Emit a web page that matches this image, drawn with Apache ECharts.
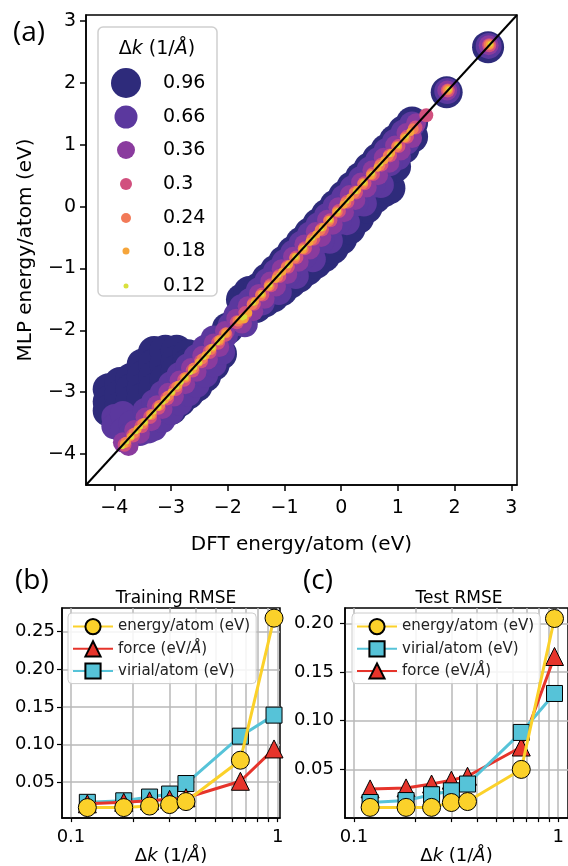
<!DOCTYPE html>
<html>
<head>
<meta charset="utf-8">
<title>MLP parity and RMSE vs dk</title>
<script src="https://cdn.jsdelivr.net/npm/echarts@6/dist/echarts.min.js"></script>
<style>
  html, body { margin: 0; padding: 0; background: #fff; }
  #chart { width: 568px; height: 866px; }
</style>
</head>
<body>
<div id="chart"></div>
<script>
// ---- (a) parity plot: [DFT, MLP] energy/atom (eV) for each Δk ----
const dkNames = ['0.96', '0.66', '0.36', '0.3', '0.24', '0.18', '0.12']
const diagLine = [-4.5, 3.1]

const pts096 = [
  [-4.10, -2.95], [-4.10, -3.15], [-4.10, -3.30],
  [-3.90, -2.85], [-3.90, -3.05], [-3.90, -3.25],
  [-3.70, -2.78], [-3.70, -2.95], [-3.70, -3.15],
  [-3.50, -2.55], [-3.50, -2.75], [-3.50, -2.95], [-3.50, -3.10],
  [-3.30, -2.35], [-3.30, -2.55], [-3.30, -2.75], [-3.30, -2.95],
  [-3.10, -2.33], [-3.10, -2.55], [-3.10, -2.80],
  [-2.90, -2.33], [-2.90, -2.50], [-2.90, -2.65],
  [-2.70, -2.40], [-2.70, -2.55], [-2.50, -2.45],
  [-3.00, -3.27], [-2.85, -3.14], [-2.70, -3.02], [-2.55, -2.90], [-2.40, -2.74],
  [-2.25, -2.56], [-2.12, -2.38],
  [-2.00, -1.97], [-1.75, -1.50], [-1.62, -1.38],
  [-1.45, -1.32], [-1.30, -1.17], [-1.15, -1.03], [-1.00, -0.88], [-0.85, -0.73],
  [-0.70, -0.58], [-0.55, -0.43], [-0.40, -0.28], [-0.25, -0.13], [-0.10, 0.02],
  [0.05, 0.17], [0.20, 0.32], [0.35, 0.47], [0.50, 0.62], [0.65, 0.77],
  [0.80, 0.92], [0.95, 1.07], [1.10, 1.22], [1.25, 1.36],
  [-1.50, -1.62], [-1.35, -1.53], [-1.20, -1.45], [-1.05, -1.35], [-0.90, -1.23],
  [-0.75, -1.13], [-0.60, -1.02], [-0.45, -0.91], [-0.30, -0.80], [-0.15, -0.67],
  [0.00, -0.52], [0.15, -0.35], [0.30, -0.18], [0.45, -0.01], [0.60, 0.15],
  [0.75, 0.25], [0.85, 0.30], [0.95, 0.65], [1.10, 0.95], [1.25, 1.13],
  [-1.10, -1.25], [-0.80, -0.98], [-0.50, -0.74], [-0.20, -0.45], [0.10, -0.15],
  [0.40, 0.18], [0.70, 0.50],
  [1.86, 1.85], [2.59, 2.58]
]
const pts066 = [
  [-4.00, -3.40], [-4.00, -3.55], [-3.85, -3.35], [-3.85, -3.62], [-3.70, -3.50],
  [-3.70, -3.68], [-3.55, -3.66], [-3.40, -3.62],
  [-3.30, -3.58], [-3.15, -3.45], [-3.00, -3.32], [-2.85, -3.17], [-2.70, -3.02],
  [-2.55, -2.88], [-2.40, -2.72], [-2.25, -2.55], [-2.10, -2.35],
  [-3.45, -3.30], [-3.30, -3.16], [-3.15, -3.02], [-3.00, -2.87], [-2.85, -2.72],
  [-2.70, -2.58], [-2.55, -2.43], [-2.40, -2.28], [-2.25, -2.13],
  [-2.05, -2.08], [-1.95, -1.92], [-1.85, -1.76], [-1.75, -1.62], [-1.70, -1.90],
  [-1.60, -1.52],
  [-1.45, -1.35], [-1.30, -1.20], [-1.15, -1.05], [-1.00, -0.90], [-0.85, -0.75],
  [-0.70, -0.60], [-0.55, -0.45], [-0.40, -0.30], [-0.25, -0.15], [-0.10, 0.00],
  [0.05, 0.15], [0.20, 0.30], [0.35, 0.45], [0.50, 0.60], [0.65, 0.75],
  [0.80, 0.90], [0.95, 1.05], [1.10, 1.20], [1.25, 1.33],
  [-1.40, -1.55], [-1.10, -1.38], [-0.80, -1.12], [-0.50, -0.85], [-0.20, -0.55],
  [0.10, -0.25], [0.40, 0.05], [0.70, 0.35], [1.00, 0.80],
  [-1.25, -1.35], [-0.95, -1.10], [-0.65, -0.80], [-0.35, -0.55], [-0.05, -0.25],
  [0.25, 0.05], [0.55, 0.35], [0.85, 0.70], [1.15, 1.05],
  [1.87, 1.87], [2.60, 2.60]
]
const pts036 = [
  [-3.85, -3.81], [-3.65, -3.61], [-3.45, -3.41], [-3.25, -3.21], [-3.05, -3.01],
  [-2.85, -2.81], [-2.65, -2.61], [-2.45, -2.41], [-2.25, -2.21], [-2.05, -2.01],
  [-3.75, -3.87], [-3.55, -3.67], [-3.35, -3.47], [-3.15, -3.27], [-2.95, -3.07],
  [-2.75, -2.87], [-2.55, -2.67], [-2.35, -2.47], [-2.15, -2.27],
  [-1.85, -1.81], [-1.65, -1.61], [-1.45, -1.41], [-1.25, -1.21], [-1.05, -1.01],
  [-0.85, -0.81], [-0.65, -0.61], [-0.45, -0.41], [-0.25, -0.21], [-0.05, -0.01],
  [0.15, 0.19], [0.35, 0.39], [0.55, 0.59], [0.75, 0.79], [0.95, 0.99],
  [1.15, 1.19], [1.32, 1.35],
  [-1.75, -1.89], [-1.55, -1.69], [-1.35, -1.49], [-1.15, -1.29], [-0.95, -1.09],
  [-0.75, -0.89], [-0.55, -0.69], [-0.35, -0.49], [-0.15, -0.29], [0.05, -0.09],
  [0.25, 0.11], [0.45, 0.31], [0.65, 0.51], [0.85, 0.71], [1.05, 0.91], [1.25, 1.11],
  [1.87, 1.88], [2.60, 2.61]
]
const pts030 = [
  [-3.82, -3.85], [-3.67, -3.70], [-3.52, -3.55], [-3.37, -3.40], [-3.22, -3.25],
  [-3.07, -3.10], [-2.92, -2.95], [-2.77, -2.80], [-2.62, -2.65], [-2.47, -2.50],
  [-2.32, -2.35], [-2.17, -2.20], [-2.04, -2.07],
  [-1.84, -1.87], [-1.69, -1.72], [-1.54, -1.57], [-1.39, -1.42], [-1.24, -1.27],
  [-1.09, -1.12], [-0.94, -0.97], [-0.79, -0.82], [-0.64, -0.67], [-0.49, -0.52],
  [-0.34, -0.37], [-0.19, -0.22], [-0.04, -0.07], [0.11, 0.08], [0.26, 0.23],
  [0.41, 0.38], [0.56, 0.53], [0.71, 0.68], [0.86, 0.83], [1.01, 0.98],
  [1.16, 1.13], [1.31, 1.28], [1.50, 1.48],
  [1.88, 1.88], [2.61, 2.61]
]
const pts024 = [
  [-3.80, -3.81], [-3.65, -3.66], [-3.50, -3.51], [-3.35, -3.36], [-3.20, -3.21],
  [-3.05, -3.06], [-2.90, -2.91], [-2.75, -2.76], [-2.60, -2.61], [-2.45, -2.46],
  [-2.30, -2.31], [-2.15, -2.16], [-2.03, -2.04],
  [-1.82, -1.85], [-1.72, -1.80], [-1.57, -1.58], [-1.42, -1.43], [-1.27, -1.28],
  [-1.12, -1.13], [-0.97, -0.98], [-0.82, -0.83], [-0.67, -0.68], [-0.52, -0.53],
  [-0.37, -0.38], [-0.22, -0.23], [-0.07, -0.08], [0.08, 0.07], [0.23, 0.22],
  [0.38, 0.37], [0.53, 0.52], [0.68, 0.67], [0.83, 0.82], [0.98, 0.97],
  [1.13, 1.12], [1.27, 1.26],
  [1.88, 1.89], [2.61, 2.62]
]
const pts018 = [
  [-3.83, -3.84], [-3.71, -3.72], [-3.59, -3.60], [-3.47, -3.48], [-3.35, -3.36],
  [-3.23, -3.24], [-3.11, -3.12], [-2.99, -3.00], [-2.87, -2.88], [-2.75, -2.76],
  [-2.63, -2.64], [-2.51, -2.52], [-2.39, -2.40], [-2.27, -2.28], [-2.15, -2.16],
  [-2.04, -2.05],
  [-1.80, -1.83], [-1.72, -1.82], [-1.64, -1.72], [-1.52, -1.53], [-1.40, -1.41],
  [-1.28, -1.29], [-1.16, -1.17], [-1.04, -1.05], [-0.92, -0.93], [-0.80, -0.81],
  [-0.68, -0.69], [-0.56, -0.57], [-0.44, -0.45], [-0.32, -0.33], [-0.20, -0.21],
  [-0.08, -0.09], [0.04, 0.03], [0.16, 0.15], [0.28, 0.27], [0.40, 0.39],
  [0.52, 0.51], [0.64, 0.63], [0.76, 0.75], [0.88, 0.87], [1.00, 0.99],
  [1.12, 1.11], [1.22, 1.21],
  [1.89, 1.89], [2.62, 2.62]
]
const pts012 = [
  [-3.86, -3.88], [-3.78, -3.80], [-3.70, -3.72], [-3.62, -3.64], [-3.54, -3.56],
  [-3.46, -3.48], [-3.38, -3.40], [-3.30, -3.32], [-3.22, -3.24], [-3.14, -3.16],
  [-3.06, -3.08], [-2.98, -3.00], [-2.90, -2.92], [-2.82, -2.84], [-2.74, -2.76],
  [-2.66, -2.68], [-2.58, -2.60], [-2.50, -2.52], [-2.42, -2.44], [-2.34, -2.36],
  [-2.26, -2.28], [-2.18, -2.20], [-2.10, -2.12],
  [-1.74, -1.80], [-1.70, -1.78],
  [-1.55, -1.56], [-1.40, -1.41], [-1.25, -1.26], [-1.10, -1.11], [-0.95, -0.96],
  [-0.80, -0.81], [-0.65, -0.66], [-0.50, -0.51], [-0.35, -0.36], [-0.20, -0.21],
  [-0.05, -0.06], [0.10, 0.09], [0.25, 0.24], [0.40, 0.39], [0.55, 0.54],
  [0.70, 0.69], [0.85, 0.84], [1.00, 0.99], [1.15, 1.14],
  [1.90, 1.90], [2.63, 2.63]
]
const dkPoints = [pts096, pts066, pts036, pts030, pts024, pts018, pts012]

// axis ticks
const parityTicks = [-4, -3, -2, -1, 0, 1, 2, 3]
const dkMajor = [0.1, 1]
const dkGrid = [0.1, 0.2, 0.3, 0.4, 0.5, 0.6, 0.7, 0.8, 0.9, 1]
const trainTicks = [0.05, 0.10, 0.15, 0.20, 0.25]
const testTicks = [0.05, 0.10, 0.15, 0.20]

// ---- (b) / (c) RMSE vs Δk (1/Å) ----
const dk = [0.12, 0.18, 0.24, 0.30, 0.36, 0.66, 0.96]
const trainEnergy = [0.016, 0.016, 0.018, 0.020, 0.024, 0.079, 0.268]
const trainForce = [0.021, 0.023, 0.025, 0.027, 0.029, 0.051, 0.094]
const trainVirial = [0.023, 0.025, 0.030, 0.034, 0.048, 0.111, 0.139]
const testEnergy = [0.011, 0.011, 0.011, 0.016, 0.017, 0.050, 0.205]
const testVirial = [0.016, 0.018, 0.024, 0.028, 0.035, 0.088, 0.128]
const testForce = [0.030, 0.031, 0.035, 0.039, 0.043, 0.073, 0.166]

// styles
const dkColors = ['#2e2b7b', '#5b389e', '#8a3b9e', '#d1507e', '#f27a58', '#f6a53a', '#d9e03c']
const dkSizes = [32, 26, 20, 14, 11, 8, 5]
const dkLegendSizes = [30, 23, 18, 12, 10, 7, 5]
const dkLegendY = [83, 117, 150, 184, 218, 251, 286]
const FONT = 'DejaVu Sans'

const NAME_E = 'energy/atom (eV)'
const NAME_F = 'force (eV/Å)'
const NAME_V = 'virial/atom (eV)'
const lineStyles = {
  [NAME_E]: { color: '#fbd12a', symbol: 'circle', size: 18 },
  [NAME_F]: { color: '#e6342b', symbol: 'triangle', size: 18 },
  [NAME_V]: { color: '#56c3d8', symbol: 'rect', size: 16 }
}

const minusFmt = (v) => (v < 0 ? '\u2212' + Math.abs(v) : String(v))

function rmseSeries(name, xs, ys, gridIdx, z) {
  const st = lineStyles[name]
  return {
    name: name,
    type: 'line',
    xAxisIndex: gridIdx,
    yAxisIndex: gridIdx,
    data: xs.map((x, i) => [x, ys[i]]),
    symbol: st.symbol,
    symbolSize: st.size,
    z: z,
    lineStyle: { color: st.color, width: 3 },
    itemStyle: { color: st.color, borderColor: '#000', borderWidth: 1 },
    emphasis: { disabled: true }
  }
}

function legendRich(name) {
  // italic Å like the mathtext in the original
  return name.replace('Å', '{i|Å}')
}

function dkAxisX(idx, min, max) {
  return {
    type: 'log',
    gridIndex: idx,
    min: min,
    max: max,
    name: '\u0394{i|k} (1/{i|Å})',
    nameLocation: 'middle',
    nameGap: 13,
    nameTextStyle: {
      fontFamily: FONT, fontSize: 18, color: '#000',
      rich: { i: { fontStyle: 'italic', fontFamily: FONT, fontSize: 18, color: '#000' } }
    },
    axisLine: { show: true, lineStyle: { color: '#000', width: 1.5 } },
    axisTick: { show: true, length: 4, customValues: dkGrid, lineStyle: { color: '#000', width: 1.2 } },
    axisLabel: {
      customValues: dkMajor, margin: 10, fontFamily: FONT, fontSize: 18, color: '#000',
      formatter: (v) => String(+(+v).toPrecision(2))
    },
    splitLine: { show: true, lineStyle: { color: '#b9b9b9', width: 1.5 } }
  }
}

function rmseAxisY(idx, min, max, ticks, margin) {
  return {
    type: 'value',
    gridIndex: idx,
    min: min,
    max: max,
    axisLine: { show: true, lineStyle: { color: '#000', width: 1.5 } },
    axisTick: { show: true, length: 5, customValues: ticks, lineStyle: { color: '#000', width: 1.2 } },
    axisLabel: {
      customValues: ticks, margin: margin, fontFamily: FONT, fontSize: 18, color: '#000',
      formatter: (v) => (+v).toFixed(2)
    },
    splitLine: { show: true, lineStyle: { color: '#b9b9b9', width: 1.5 } }
  }
}

function rmseLegend(left, names) {
  return {
    left: left,
    top: 613,
    orient: 'vertical',
    data: names,
    itemWidth: 40,
    itemHeight: 19,
    itemGap: 5,
    padding: [5, 6, 4, 4],
    backgroundColor: 'rgba(255,255,255,0.85)',
    borderColor: '#cccccc',
    borderWidth: 1,
    borderRadius: 4,
    selectedMode: false,
    formatter: legendRich,
    textStyle: {
      fontFamily: FONT, fontSize: 15, color: '#222',
      rich: { i: { fontStyle: 'italic', fontFamily: FONT, fontSize: 15, color: '#222' } }
    }
  }
}

const myChart = echarts.init(document.getElementById('chart'), null, { renderer: 'canvas' })

const series = []
dkNames.forEach((name, i) => {
  series.push({
    name: name,
    type: 'scatter',
    xAxisIndex: 0,
    yAxisIndex: 0,
    data: dkPoints[i],
    symbol: 'circle',
    symbolSize: dkSizes[i],
    itemStyle: { color: dkColors[i], opacity: 1 },
    emphasis: { disabled: true },
    z: 2
  })
})
// y = x reference line
series.push({
  type: 'line',
  xAxisIndex: 0,
  yAxisIndex: 0,
  data: diagLine.map((v) => [v, v]),
  symbol: 'none',
  lineStyle: { color: '#000', width: 2 },
  z: 5,
  silent: true
})
// training: drawn virial, force, energy (energy on top)
series.push(rmseSeries(NAME_V, dk, trainVirial, 1, 3))
series.push(rmseSeries(NAME_F, dk, trainForce, 1, 4))
series.push(rmseSeries(NAME_E, dk, trainEnergy, 1, 5))
// test: drawn force, virial, energy
series.push(rmseSeries(NAME_F, dk, testForce, 2, 3))
series.push(rmseSeries(NAME_V, dk, testVirial, 2, 4))
series.push(rmseSeries(NAME_E, dk, testEnergy, 2, 5))

// one legend per Δk so each marker keeps its own size
const legends = dkNames.map((name, i) => ({
  data: [name],
  left: 126 - dkLegendSizes[i] / 2,
  top: dkLegendY[i] - Math.max(dkLegendSizes[i], 19) / 2,
  itemWidth: 64,
  itemHeight: dkLegendSizes[i],
  icon: 'circle',
  padding: 0,
  selectedMode: false,
  textStyle: { fontFamily: FONT, fontSize: 19, color: '#000' }
}))
legends.push(rmseLegend(68, [NAME_E, NAME_F, NAME_V]))
legends.push(rmseLegend(352, [NAME_E, NAME_V, NAME_F]))

const option = {
  animation: false,
  backgroundColor: '#fff',
  title: [
    { text: '(a)', left: 8, top: 14, textStyle: { fontFamily: 'Open Sans', fontSize: 28, fontWeight: 'normal', color: '#000' } },
    { text: '(b)', left: 10, top: 562, textStyle: { fontFamily: 'Open Sans', fontSize: 28, fontWeight: 'normal', color: '#000' } },
    { text: '(c)', left: 298, top: 562, textStyle: { fontFamily: 'Open Sans', fontSize: 28, fontWeight: 'normal', color: '#000' } },
    { text: 'Training RMSE', left: 171, top: 585, textAlign: 'center', textStyle: { fontFamily: FONT, fontSize: 17, fontWeight: 'normal', color: '#000' } },
    { text: 'Test RMSE', left: 454, top: 585, textAlign: 'center', textStyle: { fontFamily: FONT, fontSize: 17, fontWeight: 'normal', color: '#000' } }
  ],
  graphic: [
    {
      type: 'rect',
      shape: { x: 98, y: 27, width: 119, height: 269, r: 5 },
      style: { fill: 'rgba(255,255,255,0.85)', stroke: '#cfcfcf', lineWidth: 1.5 },
      z: 0
    },
    {
      type: 'text',
      x: 157,
      y: 49,
      style: {
        text: '\u0394{i|k} (1/{i|Å})',
        font: '19px "DejaVu Sans"',
        fill: '#000',
        align: 'center',
        verticalAlign: 'middle',
        rich: { i: { fontStyle: 'italic', fontFamily: FONT, fontSize: 19 } }
      },
      z: 5
    }
  ],
  legend: legends,
  grid: [
    { left: 86, top: 15, width: 431, height: 470, show: true, borderColor: '#000', borderWidth: 1.5, backgroundColor: 'transparent' },
    { left: 62, top: 608, width: 218, height: 227, show: true, borderColor: '#000', borderWidth: 1.5, backgroundColor: 'transparent' },
    { left: 345, top: 608, width: 225, height: 227, show: true, borderColor: '#000', borderWidth: 1.5, backgroundColor: 'transparent' }
  ],
  xAxis: [
    {
      type: 'value',
      gridIndex: 0,
      min: diagLine[0],
      max: diagLine[1],
      name: 'DFT energy/atom (eV)',
      nameLocation: 'middle',
      nameGap: 50,
      nameTextStyle: { fontFamily: FONT, fontSize: 20, color: '#000' },
      axisLine: { show: true, onZero: false, lineStyle: { color: '#000', width: 1.5 } },
      axisTick: { show: true, length: 6, customValues: parityTicks, lineStyle: { color: '#000', width: 1.5 } },
      axisLabel: { customValues: parityTicks, margin: 14, fontFamily: FONT, fontSize: 19, color: '#000', formatter: minusFmt },
      splitLine: { show: false }
    },
    dkAxisX(1, 0.0905, 1.026),
    dkAxisX(2, 0.0904, 1.118)
  ],
  yAxis: [
    {
      type: 'value',
      gridIndex: 0,
      min: diagLine[0],
      max: diagLine[1],
      name: 'MLP energy/atom (eV)',
      nameLocation: 'middle',
      nameGap: 50,
      nameTextStyle: { fontFamily: FONT, fontSize: 20, color: '#000' },
      axisLine: { show: true, onZero: false, lineStyle: { color: '#000', width: 1.5 } },
      axisTick: { show: true, length: 6, customValues: parityTicks, lineStyle: { color: '#000', width: 1.5 } },
      axisLabel: { customValues: parityTicks, margin: 10, fontFamily: FONT, fontSize: 19, color: '#000', formatter: minusFmt },
      splitLine: { show: false }
    },
    rmseAxisY(1, 0.002, 0.2815, trainTicks, 7),
    rmseAxisY(2, 0.0, 0.2158, testTicks, 11)
  ],
  series: series
}

myChart.setOption(option)
window.addEventListener('resize', function () {
  myChart.resize()
})
</script>
</body>
</html>
